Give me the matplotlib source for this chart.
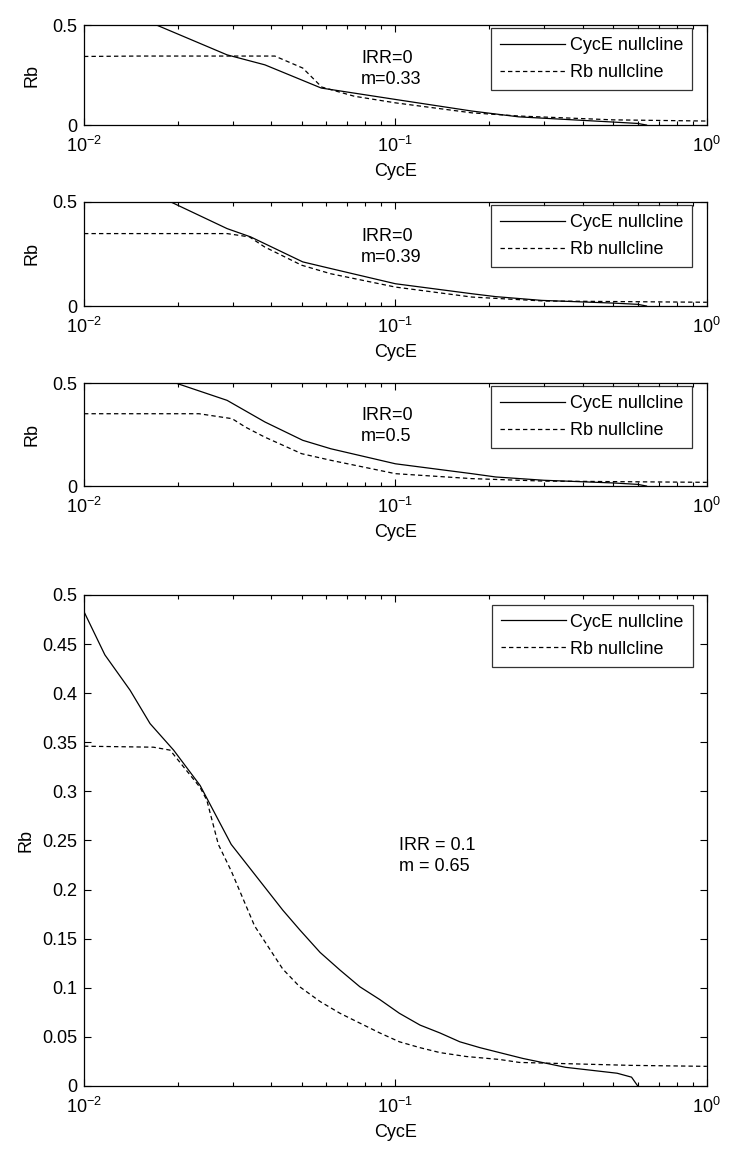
import matplotlib
matplotlib.use('Agg')

import matplotlib.pyplot as plt
from matplotlib.ticker import LogLocator, NullFormatter
import numpy as np

plt.rcParams['font.family'] = ['Liberation Sans', 'DejaVu Sans']
plt.rcParams['mathtext.fontset'] = 'custom'
plt.rcParams['mathtext.rm'] = 'Liberation Sans'

# panel 1: IRR=0, m=0.33
p1_cyce_x = [0.0171, 0.0288, 0.0381, 0.0578, 0.101, 0.176, 0.249, 0.5, 0.6, 0.64]
p1_cyce_y = [0.5, 0.351, 0.301, 0.185, 0.127, 0.07, 0.041, 0.015, 0.008, 0.0]
p1_rb_x = [0.01, 0.015, 0.041, 0.0504, 0.058, 0.0738, 0.1, 0.176, 0.25, 0.5, 1.0]
p1_rb_y = [0.343, 0.345, 0.345, 0.285, 0.19, 0.144, 0.111, 0.061, 0.045, 0.026, 0.02]

# panel 2: IRR=0, m=0.39
p2_cyce_x = [0.019, 0.0288, 0.0343, 0.0504, 0.062, 0.1, 0.176, 0.21, 0.295, 0.5, 0.6, 0.64]
p2_cyce_y = [0.5, 0.372, 0.332, 0.212, 0.18, 0.107, 0.059, 0.045, 0.027, 0.014, 0.008, 0.0]
p2_rb_x = [0.01, 0.0288, 0.034, 0.038, 0.05, 0.062, 0.1, 0.176, 0.3, 1.0]
p2_rb_y = [0.348, 0.348, 0.332, 0.284, 0.196, 0.155, 0.091, 0.043, 0.024, 0.018]

# panel 3: IRR=0, m=0.5
p3_cyce_x = [0.0197, 0.0288, 0.0381, 0.0504, 0.062, 0.1, 0.176, 0.21, 0.3, 0.5, 0.6, 0.64]
p3_cyce_y = [0.5, 0.416, 0.311, 0.222, 0.181, 0.108, 0.06, 0.044, 0.028, 0.015, 0.008, 0.0]
p3_rb_x = [0.01, 0.0234, 0.0299, 0.033, 0.038, 0.05, 0.062, 0.1, 0.176, 0.3, 1.0]
p3_rb_y = [0.351, 0.351, 0.327, 0.286, 0.238, 0.157, 0.125, 0.06, 0.036, 0.024, 0.018]

# panel 4: IRR=0.1, m=0.65
p4_cyce_x = [0.01, 0.01167, 0.01406, 0.0163, 0.0194, 0.0236, 0.0297, 0.0435, 0.0493,
             0.0573, 0.0664, 0.0769, 0.0891, 0.103, 0.12, 0.139, 0.161, 0.187, 0.216,
             0.257, 0.352, 0.515, 0.573, 0.6]
p4_cyce_y = [0.483, 0.439, 0.403, 0.369, 0.342, 0.306, 0.246, 0.179, 0.159,
             0.136, 0.118, 0.101, 0.088, 0.074, 0.062, 0.054, 0.045, 0.039, 0.034,
             0.028, 0.019, 0.013, 0.009, 0.0]
p4_rb_x = [0.01, 0.0167, 0.0189, 0.0236, 0.0248, 0.027, 0.0297, 0.0353, 0.0435, 0.0493,
           0.0573, 0.0664, 0.0769, 0.0891, 0.103, 0.12, 0.139, 0.169, 0.216, 0.25, 0.57, 1.0]
p4_rb_y = [0.346, 0.345, 0.342, 0.304, 0.291, 0.246, 0.219, 0.163, 0.119, 0.101,
           0.086, 0.074, 0.064, 0.054, 0.045, 0.039, 0.034, 0.030, 0.027, 0.024, 0.021, 0.02]

panel_notes = ['IRR=0\nm=0.33', 'IRR=0\nm=0.39', 'IRR=0\nm=0.5', 'IRR = 0.1\nm = 0.65']
small_yticks = [0, 0.5]
big_yticks = [0, 0.05, 0.1, 0.15, 0.2, 0.25, 0.3, 0.35, 0.4, 0.45, 0.5]
big_yticklabels = ['0', '0.05', '0.1', '0.15', '0.2', '0.25', '0.3', '0.35', '0.4', '0.45', '0.5']

fig = plt.figure(figsize=(7.38, 11.6), dpi=100)

# axes rectangles (left, bottom, width, height) in figure fraction
rects = [
    [0.1138, 0.8922, 0.844, 0.0862],
    [0.1138, 0.7362, 0.844, 0.0897],
    [0.1138, 0.5810, 0.844, 0.0888],
    [0.1138, 0.0638, 0.844, 0.4233],
]
note_pos = [(0.445, 0.56), (0.445, 0.57), (0.445, 0.58), (0.505, 0.468)]

data = [
    (p1_cyce_x, p1_cyce_y, p1_rb_x, p1_rb_y),
    (p2_cyce_x, p2_cyce_y, p2_rb_x, p2_rb_y),
    (p3_cyce_x, p3_cyce_y, p3_rb_x, p3_rb_y),
    (p4_cyce_x, p4_cyce_y, p4_rb_x, p4_rb_y),
]

FS = 13

for i in range(4):
    ax = fig.add_axes(rects[i])
    cx, cy, rx, ry = data[i]
    ax.plot(cx, cy, color='black', linewidth=0.9, label='CycE nullcline')
    ax.plot(rx, ry, color='black', linewidth=0.9, linestyle=(0, (3.5, 2.5)), label='Rb nullcline')
    ax.set_xscale('log')
    ax.set_xlim(0.01, 1)
    ax.set_ylim(0, 0.5)
    if i < 3:
        ax.set_yticks(small_yticks)
        ax.set_yticklabels(['0', '0.5'])
    else:
        ax.set_yticks(big_yticks)
        ax.set_yticklabels(big_yticklabels)
    ax.xaxis.set_minor_locator(LogLocator(base=10, subs=np.arange(2, 10)))
    ax.xaxis.set_minor_formatter(NullFormatter())
    ax.tick_params(which='both', direction='in', top=True, right=True, labelsize=FS)
    ax.tick_params(axis='x', pad=8)
    ax.tick_params(axis='y', pad=5)
    ax.tick_params(which='major', length=5, width=0.8)
    ax.tick_params(which='minor', length=3, width=0.8)
    for s in ax.spines.values():
        s.set_linewidth(0.9)
    ax.set_xlabel('CycE', fontsize=FS, labelpad=5)
    if i < 3:
        ax.set_ylabel('Rb', fontsize=FS, labelpad=8)
    else:
        ax.set_ylabel('Rb', fontsize=FS, labelpad=5)
    ax.text(note_pos[i][0], note_pos[i][1], panel_notes[i], transform=ax.transAxes,
            fontsize=FS, ha='left', va='center', linespacing=1.3)
    if i < 3:
        anchor = (0.976, 0.97)
    else:
        anchor = (0.9775, 0.98)
    leg = ax.legend(loc='upper right', bbox_to_anchor=anchor, fontsize=FS, frameon=True,
                    fancybox=False, edgecolor='black', handlelength=3.6, borderpad=0.5,
                    labelspacing=0.55, handletextpad=0.25, borderaxespad=0)
    leg.get_frame().set_linewidth(0.9)

plt.savefig('out.png', dpi=100)
